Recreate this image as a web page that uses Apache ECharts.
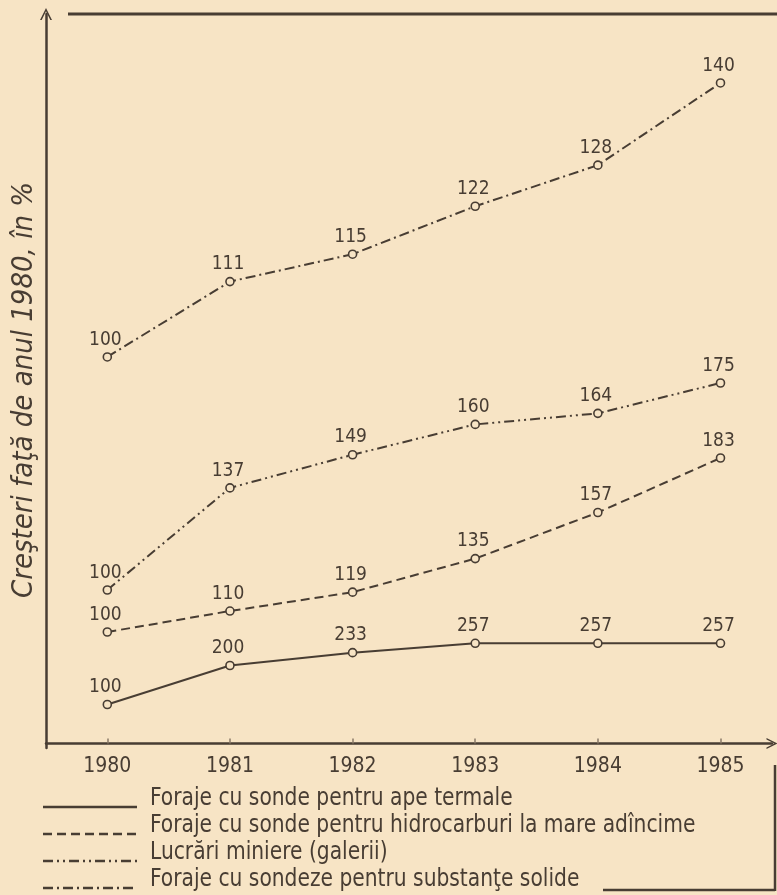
<!DOCTYPE html>
<html>
<head>
<meta charset="utf-8">
<script src="https://cdn.jsdelivr.net/npm/echarts@6/dist/echarts.min.js"></script>
<style>
html,body{margin:0;padding:0;background:#f7e4c5;}
#c{width:777px;height:895px;}
</style>
</head>
<body>
<div id="c"></div>
<script>
// ---- data ----
var years = [1980, 1981, 1982, 1983, 1984, 1985];
var apeTermale      = [100, 200, 233, 257, 257, 257];
var hidrocarburi    = [100, 110, 119, 135, 157, 183];
var lucrariMiniere  = [100, 137, 149, 160, 164, 175];
var substanteSolide = [100, 111, 115, 122, 128, 140];
var seriesNames = [
  'Foraje cu sonde pentru ape termale',
  'Foraje cu sonde pentru hidrocarburi la mare adîncime',
  'Lucrări miniere (galerii)',
  'Foraje cu sondeze pentru substanţe solide'
];
var yTitle = 'Creşteri faţă de anul 1980, în %';

// ---- style / layout ----
var ink = '#483d33';
var bg = '#f7e4c5';
var font = '"Liberation Sans Narrow", "DejaVu Sans Condensed", sans-serif';
var dashes = ['solid', [9, 5], [10, 4, 2, 4, 2, 4], [10, 4, 2, 4]];
// each curve was drawn on its own offset scale in the original
var scales = [[-11.5, 1870.5], [44.66, 394.8], [42.75, 308.7], [42.9, 150.07]];
var chevron = 'path://M0,10 L5,0 L10,10 L8.6,10 L5,2.8 L1.4,10 Z';

var allData = [apeTermale, hidrocarburi, lucrariMiniere, substanteSolide];

var yAxes = scales.map(function (s, i) {
  return {
    type: 'value', min: s[0], max: s[1],
    show: i === 0,
    position: 'left',
    splitLine: {show: false},
    axisTick: {show: false},
    axisLabel: {show: false},
    axisLine: {show: i === 0, symbol: ['none', chevron], symbolSize: [26, 12],
               lineStyle: {color: ink, width: 2.5}},
    name: i === 0 ? yTitle : '',
    nameLocation: 'middle',
    nameRotate: 90,
    nameGap: 7,
    nameTextStyle: {fontFamily: font, fontStyle: 'italic', fontSize: 29, color: ink,
                    padding: [0, 18, 0, 0]}
  };
});

var series = allData.map(function (arr, i) {
  return {
    name: seriesNames[i],
    type: 'line',
    yAxisIndex: i,
    data: years.map(function (y, j) { return [y, arr[j]]; }),
    symbol: 'circle',
    symbolSize: 8,
    itemStyle: {color: bg, borderColor: ink, borderWidth: 1.6},
    lineStyle: {color: ink, width: 2, type: dashes[i]},
    label: {show: true, position: 'top', distance: 3, offset: [-2, 0],
            fontFamily: font, fontSize: 19, color: ink},
    silent: true,
    animation: false
  };
});

// legend drawn as decoration under the axis
var graphic = [
  {type: 'line', shape: {x1: 68, y1: 14, x2: 777, y2: 14}, style: {stroke: ink, lineWidth: 3}},
  {type: 'line', shape: {x1: 775, y1: 765, x2: 775, y2: 891}, style: {stroke: ink, lineWidth: 2.5}},
  {type: 'line', shape: {x1: 603, y1: 890, x2: 775, y2: 890}, style: {stroke: ink, lineWidth: 2.5}}
];
var legendTop = 807, legendPitch = 27;
seriesNames.forEach(function (n, i) {
  var y = legendTop + i * legendPitch;
  graphic.push({type: 'line', shape: {x1: 43, y1: y, x2: 137, y2: y},
    style: {stroke: ink, lineWidth: 2.5, lineDash: dashes[i] === 'solid' ? null : dashes[i]}});
  graphic.push({type: 'text', x: 150, y: y - 9, scaleX: 0.9,
    style: {text: n, fill: ink, font: '25px ' + font, verticalAlign: 'middle', align: 'left'}});
});

var chart = echarts.init(document.getElementById('c'), null, {renderer: 'canvas'});
chart.setOption({
  backgroundColor: bg,
  animation: false,
  grid: {left: 46, right: 5, top: 14, bottom: 147, containLabel: false, outerBoundsMode: 'none'},
  xAxis: {
    type: 'value', min: 1979.5, max: 1985.42,
    splitLine: {show: false},
    axisLine: {show: true, symbol: ['none', chevron], symbolSize: [24, 11],
               lineStyle: {color: ink, width: 2.5}},
    axisTick: {show: true, inside: true, length: 5, customValues: years,
               lineStyle: {color: '#8a7a68', width: 1.5}},
    axisLabel: {customValues: years, margin: 8, fontFamily: font, fontSize: 21, color: ink,
                formatter: function (v) { return String(v); }}
  },
  yAxis: yAxes,
  series: series,
  graphic: graphic
});
</script>
</body>
</html>
